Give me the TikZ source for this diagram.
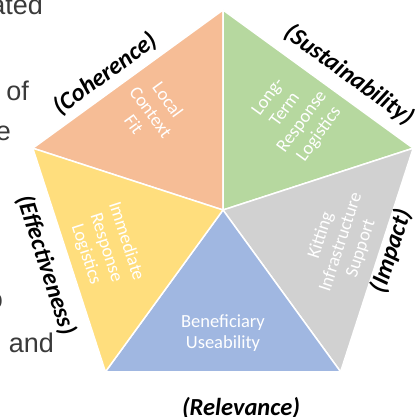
\documentclass[tikz,border=0pt]{standalone}
\usepackage{fontspec}
\setmainfont{Carlito}
\newfontfamily\docfont{Liberation Sans}
\definecolor{cOrange}{RGB}{246,189,150}
\definecolor{cGreen}{RGB}{182,216,159}
\definecolor{cYellow}{RGB}{255,222,125}
\definecolor{cGray}{RGB}{209,209,209}
\definecolor{cBlue}{RGB}{160,183,225}
\definecolor{fragcol}{RGB}{58,58,58}
\begin{document}
\begin{tikzpicture}[x=1pt,y=-1pt,
  slice/.style={draw=white, line width=1.5pt, line join=round},
  intext/.style={text=white, align=center, font=\fontsize{18.5}{21}\selectfont, inner sep=0pt},
  outlabel/.style={font=\bfseries\itshape\fontsize{24.5}{27}\selectfont, inner sep=0pt},
  frag/.style={font=\docfont\fontsize{27}{30}\selectfont, text=fragcol, anchor=base east, inner sep=0pt}]
\useasboundingbox (0,0) rectangle (417,417);
\coordinate (c) at (223,210);
\coordinate (vt) at (223,10);
\coordinate (vur) at (413.2,148.2);
\coordinate (vlr) at (340.6,371.8);
\coordinate (vll) at (105.4,371.8);
\coordinate (vul) at (32.8,148.2);
% slices
\path[slice, fill=cOrange] (c) -- (vul) -- (vt) -- cycle;
\path[slice, fill=cGreen] (c) -- (vt) -- (vur) -- cycle;
\path[slice, fill=cGray] (c) -- (vur) -- (vlr) -- cycle;
\path[slice, fill=cBlue] (c) -- (vlr) -- (vll) -- cycle;
\path[slice, fill=cYellow] (c) -- (vll) -- (vul) -- cycle;
% inner texts
\node[intext, rotate=-54] (tfit) at (151,112) {Local\\Context\\Fit};
\node[intext, rotate=54] (tlong) at (294,116) {Long-\\Term\\Response\\Logistics};
\node[intext, rotate=72] (tkit) at (341,242) {Kitting\\Infrastructure\\Support};
\node[intext, rotate=-72] (timm) at (106,248) {Immediate\\Response\\Logistics};
\node[intext] (tben) at (223,333) {Beneficiary\\Useability};
% outer labels
\node[outlabel, rotate=36] (lcoh) at (105,74) {(Coherence)};
\node[outlabel, rotate=-36] (lsus) at (349,75) {(Sustainability)};
\node[outlabel, rotate=72] (limp) at (391,251) {(Impact)};
\node[outlabel, rotate=-72] (leff) at (46,265) {(Effectiveness)};
\node[outlabel] (lrel) at (241,408) {(Relevance)};
% surrounding text fragments
\begin{scope}
\clip (0,0) rectangle (417,417);
\node[frag] (f1) at (43,15) {ated};
\node[frag] (f2) at (29,100) {of};
\node[frag] (f3) at (11,140) {e};
\node[frag] (f4) at (3,308) {o};
\node[frag] (f5) at (54,352) {and};
\end{scope}
\end{tikzpicture}
\end{document}
